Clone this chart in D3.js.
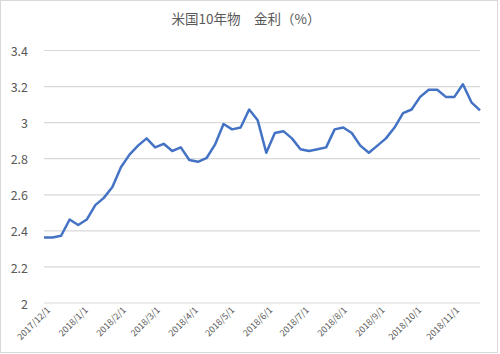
<!DOCTYPE html>
<html>
<head>
<meta charset="utf-8">
<script src="https://cdn.jsdelivr.net/npm/d3@7"></script>
<style>
  body { margin: 0; background: #fff; }
  text { font-family: "Noto Sans CJK JP", "Noto Sans", sans-serif; fill: #595959; }
</style>
</head>
<body>
<div id="chart"></div>
<script>
const width = 500;
const height = 354;
const marginTop = 50;
const marginBottom = 51.5;
const marginRight = 20;
const marginLeft = 44;

const title = "米国10年物　金利（%）";

// weekly observations
const dates = [
    "2017-12-01", "2017-12-08", "2017-12-15", "2017-12-22", "2017-12-29",
    "2018-01-05", "2018-01-12", "2018-01-19", "2018-01-26",
    "2018-02-02", "2018-02-09", "2018-02-16", "2018-02-23",
    "2018-03-02", "2018-03-09", "2018-03-16", "2018-03-23", "2018-03-30",
    "2018-04-06", "2018-04-13", "2018-04-20", "2018-04-27",
    "2018-05-04", "2018-05-11", "2018-05-18", "2018-05-25",
    "2018-06-01", "2018-06-08", "2018-06-15", "2018-06-22", "2018-06-29",
    "2018-07-06", "2018-07-13", "2018-07-20", "2018-07-27",
    "2018-08-03", "2018-08-10", "2018-08-17", "2018-08-24", "2018-08-31",
    "2018-09-07", "2018-09-14", "2018-09-21", "2018-09-28",
    "2018-10-05", "2018-10-12", "2018-10-19", "2018-10-26",
    "2018-11-02", "2018-11-09", "2018-11-16", "2018-11-23"
];

const rates = [
    2.36, 2.36, 2.37, 2.46, 2.43, 2.46, 2.54, 2.58, 2.64, 2.75,
    2.82, 2.87, 2.91, 2.86, 2.88, 2.84, 2.86, 2.79, 2.78, 2.80,
    2.875, 2.99, 2.96, 2.97, 3.07, 3.01, 2.83, 2.94, 2.95, 2.91,
    2.85, 2.84, 2.85, 2.86, 2.96, 2.97, 2.94, 2.87, 2.83, 2.87,
    2.91, 2.97, 3.05, 3.07, 3.14, 3.18, 3.18, 3.14, 3.14, 3.21,
    3.11, 3.065
];

const yTicks = [2, 2.2, 2.4, 2.6, 2.8, 3, 3.2, 3.4];
const xTicks = [
    "2017-12-01", "2018-01-01", "2018-02-01", "2018-03-01", "2018-04-01", "2018-05-01",
    "2018-06-01", "2018-07-01", "2018-08-01", "2018-09-01", "2018-10-01", "2018-11-01"
];

const parse = d3.timeParse("%Y-%m-%d");
const data = dates.map((d, i) => ({ date: parse(d), rate: rates[i] }));

const svg = d3.select("#chart").append("svg")
    .attr("width", width)
    .attr("height", height);

// chart border
svg.append("rect")
    .attr("x", 0.5)
    .attr("y", 0.5)
    .attr("width", width - 3)
    .attr("height", height - 2)
    .attr("fill", "#fff")
    .attr("stroke", "#d9d9d9");

const x = d3.scaleTime()
    .domain(d3.extent(data, d => d.date))
    .range([marginLeft, width - marginRight]);

const y = d3.scaleLinear()
    .domain([2, 3.4])
    .range([height - marginBottom, marginTop]);

// gridlines + y labels
const yAxis = svg.append("g")
    .attr("class", "yAxis")
    .attr("transform", `translate(${marginLeft}, 0)`)
    .call(d3.axisLeft(y)
        .tickValues(yTicks)
        .tickFormat(d3.format("~g"))
        .tickSize(-(width - marginRight - marginLeft))
        .tickPadding(16));
yAxis.select(".domain").remove();
yAxis.selectAll("line").attr("stroke", "#d9d9d9").attr("stroke-width", 1.2);
yAxis.selectAll("text")
    .attr("dy", "0.45em")
    .style("font-size", "12.5px")
    .style("fill", "#595959");

// x labels (rotated)
const xAxis = svg.append("g")
    .attr("class", "xAxis")
    .attr("transform", `translate(0, ${height - marginBottom})`)
    .call(d3.axisBottom(x)
        .tickValues(xTicks.map(parse))
        .tickFormat(d3.timeFormat("%Y/%-m/%-d"))
        .tickSize(0));
xAxis.select(".domain").remove();
xAxis.selectAll("text")
    .attr("text-anchor", "end")
    .attr("transform", "translate(4, 6) rotate(-45)")
    .attr("x", 0)
    .attr("y", 0)
    .attr("dy", "0.35em")
    .style("font-size", "9px")
    .style("fill", "#595959");

// line
const line = d3.line()
    .x(d => x(d.date))
    .y(d => y(d.rate));

svg.append("path")
    .datum(data)
    .attr("fill", "none")
    .attr("stroke", "#4472c4")
    .attr("stroke-width", 2.5)
    .attr("stroke-linejoin", "round")
    .attr("d", line);

svg.append("text")
    .attr("x", 246)
    .attr("y", 24)
    .attr("text-anchor", "middle")
    .style("font-size", "13.5px")
    .style("fill", "#595959")
    .text(title);
</script>
</body>
</html>
